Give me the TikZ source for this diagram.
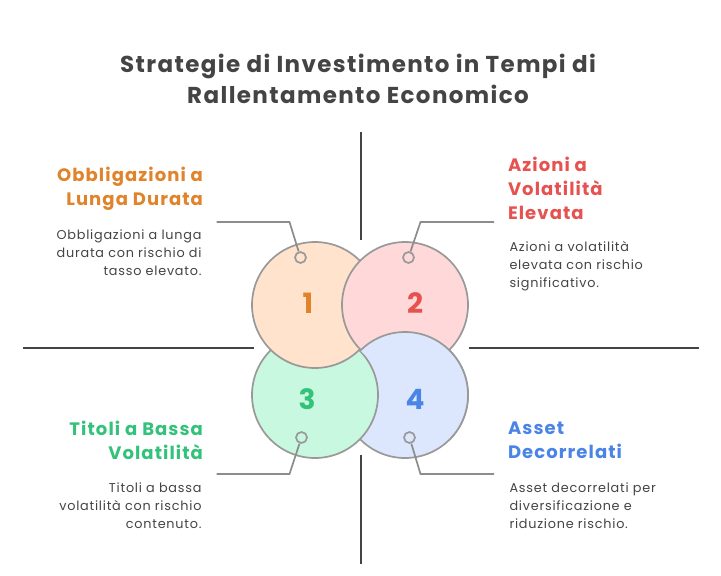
\documentclass[tikz,border=0pt]{standalone}
\usepackage{fontspec}
\setmainfont{Poppins}[LetterSpace=6]
\usetikzlibrary{positioning}

\definecolor{inkgray}{HTML}{444444}
\definecolor{ringgray}{HTML}{999999}
\definecolor{leadgray}{HTML}{8C8C8C}
\definecolor{peachfill}{HTML}{FFE3CC}
\definecolor{pinkfill}{HTML}{FFD9D9}
\definecolor{mintfill}{HTML}{C8F8E0}
\definecolor{skyfill}{HTML}{DCE7FD}
\definecolor{orangeink}{HTML}{E0832A}
\definecolor{redink}{HTML}{E5524F}
\definecolor{greenink}{HTML}{33C27A}
\definecolor{blueink}{HTML}{4A84E5}

\tikzset{
  bubble/.style={circle, draw=ringgray, line width=1.7pt, minimum size=126pt, inner sep=0pt},
  dot/.style={circle, draw=ringgray, line width=1.7pt, minimum size=11pt, inner sep=0pt},
  numlabel/.style={font=\fontsize{28}{28}\selectfont\bfseries},
  axisline/.style={draw=inkgray, line width=2pt},
  leader/.style={draw=leadgray, line width=1.7pt},
  headleft/.style={anchor=base east, align=right, font=\fontsize{18}{24}\selectfont\bfseries},
  headright/.style={anchor=base west, align=left, font=\fontsize{18}{24}\selectfont\bfseries},
  bodyleft/.style={anchor=base east, align=right, text=inkgray, font=\fontsize{12.8}{18}\selectfont},
  bodyright/.style={anchor=base west, align=left, text=inkgray, font=\fontsize{12.8}{18}\selectfont}
}

\begin{document}
\begin{tikzpicture}[x=1pt,y=-1pt]

    \useasboundingbox[fill=white] (0,0) rectangle (721,576);

    % Title
    \node[align=center, text=inkgray, font=\fontsize{23}{31}\selectfont\bfseries, anchor=base]
        (title) at (358,103) {Strategie di Investimento in Tempi di\\Rallentamento Economico};

    % Axes
    \draw[axisline] (361,132) -- (361,240);
    \draw[axisline] (361,455) -- (361,564);
    \draw[axisline] (23,348) -- (254,348);
    \draw[axisline] (469,348) -- (699,348);

    % Circles (pinwheel overlap)
    \node[bubble, fill=skyfill] (c4) at (405,395) {};
    \node[bubble, fill=mintfill] (c3) at (315,395) {};
    \node[bubble, fill=peachfill] (c1) at (315,305) {};
    \node[bubble, fill=pinkfill] (c2) at (405,305) {};
    \begin{scope}
        \clip (360,350) -- (600,590) -- (600,150) -- (360,150) -- cycle;
        \filldraw[fill=skyfill, draw=ringgray, line width=1.7pt] (c4.center) circle (63pt);
    \end{scope}

    % Numbers
    \node[numlabel, text=orangeink] (n1) at (308,303) {1};
    \node[numlabel, text=redink] (n2) at (415,303) {2};
    \node[numlabel, text=greenink] (n3) at (307,399) {3};
    \node[numlabel, text=blueink] (n4) at (415,399) {4};

    % Leaders
    \node[dot] (d1) at (300.5,257.5) {};
    \node[dot] (d2) at (408.5,257.5) {};
    \node[dot] (d3) at (301.5,437.5) {};
    \node[dot] (d4) at (409.5,437.5) {};
    \coordinate (k1) at (289.5,222);
    \coordinate (e1) at (216.5,222);
    \coordinate (k2) at (420.5,222);
    \coordinate (e2) at (494,222);
    \coordinate (k3) at (289.5,474);
    \coordinate (e3) at (216.5,474);
    \coordinate (k4) at (420.5,474);
    \coordinate (e4) at (494,474);
    \draw[leader] (d1) -- (k1) -- (e1);
    \draw[leader] (d2) -- (k2) -- (e2);
    \draw[leader] (d3) -- (k3) -- (e3);
    \draw[leader] (d4) -- (k4) -- (e4);

    % Texts
    \node[headleft, text=orangeink] (h1) at (206.5,205) {Obbligazioni a\\Lunga Durata};
    \node[bodyleft] (b1) at (205,275) {Obbligazioni a lunga\\durata con rischio di\\tasso elevato.};
    \node[headright, text=redink] (h2) at (504.5,219) {Azioni a\\Volatilità\\Elevata};
    \node[bodyright] (b2) at (506,287.5) {Azioni a volatilità\\elevata con rischio\\significativo.};
    \node[headleft, text=greenink] (h3) at (206.5,459) {Titoli a Bassa\\Volatilità};
    \node[bodyleft] (b3) at (205,528) {Titoli a bassa\\volatilità con rischio\\contenuto.};
    \node[headright, text=blueink] (h4) at (504.5,458.5) {Asset\\Decorrelati};
    \node[bodyright] (b4) at (506,528) {Asset decorrelati per\\diversificazione e\\riduzione rischio.};

\end{tikzpicture}
\end{document}
